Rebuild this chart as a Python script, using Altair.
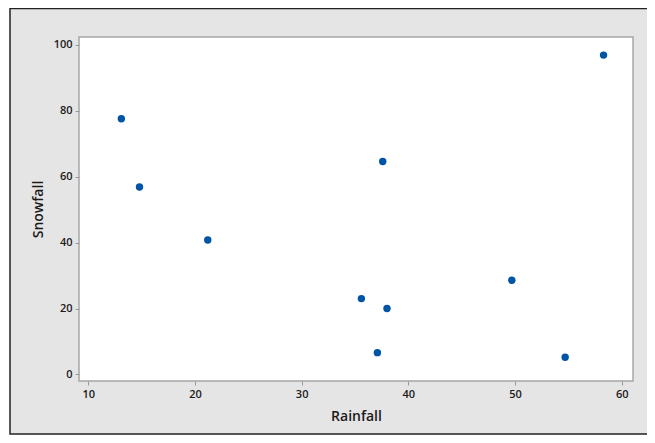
import altair as alt
import pandas as pd

rainfall = [13.1, 14.8, 21.2, 37.6, 35.6, 38.0, 37.1, 49.7, 54.7, 58.3]
snowfall = [77.6, 56.9, 40.8, 64.6, 23.0, 20.0, 6.6, 28.6, 5.2, 96.9]

x_ticks = [10, 20, 30, 40, 50, 60]
y_ticks = [0, 20, 40, 60, 80, 100]

df = pd.DataFrame({"Rainfall": rainfall, "Snowfall": snowfall})

W, H = 554, 344
FONT = "Open Sans"

xs = alt.Scale(domain=[9.13, 61.06], nice=False, zero=False)
ys = alt.Scale(domain=[-2.0, 102.4], nice=False, zero=False)

frame = alt.Chart(pd.DataFrame({"a": [0]})).mark_rect(
    fill="#e5e5e5", stroke="#222222", strokeWidth=1.5
).encode(
    x=alt.value(-69), x2=alt.value(640), y=alt.value(-28.5), y2=alt.value(397)
)

plotbg = alt.Chart(pd.DataFrame({"a": [0]})).mark_rect(
    fill="white", stroke="#a6a6a6", strokeWidth=1.5
).encode(
    x=alt.value(0), x2=alt.value(W), y=alt.value(0), y2=alt.value(H)
)

points = alt.Chart(df).mark_circle(size=55, color="#0054a6", opacity=1).encode(
    x=alt.X("Rainfall:Q", scale=xs, axis=alt.Axis(
        values=x_ticks, title="Rainfall", grid=False, domain=False,
        tickColor="#999999", tickSize=4, labelPadding=3, zindex=1,
        labelFont=FONT, labelFontSize=11, labelFontWeight=600, labelColor="#1a1a1a",
        titleFont=FONT, titleFontSize=14, titleFontWeight=600, titleColor="#1a1a1a",
        titlePadding=10)),
    y=alt.Y("Snowfall:Q", scale=ys, axis=alt.Axis(
        values=y_ticks, title="Snowfall", grid=False, domain=False,
        tickColor="#999999", tickSize=4, labelPadding=3, zindex=1,
        labelFont=FONT, labelFontSize=11, labelFontWeight=600, labelColor="#1a1a1a",
        titleFont=FONT, titleFontSize=14, titleFontWeight=600, titleColor="#1a1a1a",
        titlePadding=8)),
)

chart = alt.layer(frame, plotbg, points).properties(
    width=W, height=H,
    autosize=alt.AutoSizeParams(type="none"),
    padding={"left": 71, "top": 29, "right": 14, "bottom": 54},
    background="white",
).configure_view(stroke=None, fill=None)

chart.save("out.html", embed_options={"renderer": "svg", "actions": False})
